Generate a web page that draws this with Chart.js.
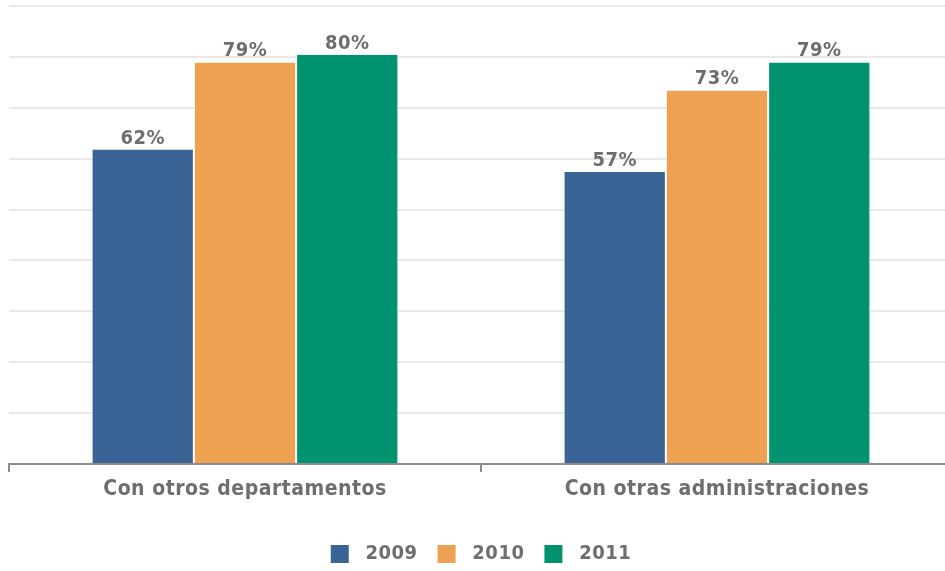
<!DOCTYPE html>
<html>
<head>
<meta charset="utf-8">
<script src="https://cdn.jsdelivr.net/npm/chart.js@4.4.1/dist/chart.umd.min.js"></script>
<style>
  html, body { margin: 0; padding: 0; background: #fff; overflow: hidden; }
  #wrap { position: relative; width: 953px; height: 574px; }
</style>
</head>
<body>
<div id="wrap"><canvas id="c"></canvas></div>
<script>
const categories = ['Con otros departamentos', 'Con otras administraciones'];
const seriesNames = ['2009', '2010', '2011'];
const values2009 = [61.8, 57.4];
const values2010 = [78.9, 73.4];
const values2011 = [80.4, 78.9];
const seriesColors = ['#3a6495', '#eea151', '#01926f'];
const yMax = 90;
const yStep = 10;

const textGray = '#6e6e6e';
const fontFamily = '"DejaVu Sans Condensed", "DejaVu Sans", sans-serif';

const spacing = {
  id: 'spacing',
  beforeLayout(chart) { chart.ctx.letterSpacing = '0.5px'; },
  beforeDraw(chart) { chart.ctx.letterSpacing = '0.5px'; }
};

const valueLabels = {
  id: 'valueLabels',
  afterDatasetsDraw(chart) {
    const ctx = chart.ctx;
    ctx.save();
    ctx.font = 'bold 20px ' + fontFamily;
    ctx.fillStyle = textGray;
    ctx.textAlign = 'center';
    ctx.textBaseline = 'alphabetic';
    chart.data.datasets.forEach((ds, i) => {
      const meta = chart.getDatasetMeta(i);
      meta.data.forEach((bar, j) => {
        ctx.fillText(Math.round(ds.data[j]) + '%', bar.x, bar.y - 6);
      });
    });
    ctx.restore();
  }
};

const allValues = [values2009, values2010, values2011];
const datasets = seriesNames.map((name, i) => ({
  label: name,
  data: allValues[i],
  backgroundColor: seriesColors[i],
  borderColor: '#ffffff',
  borderWidth: { left: 1, right: 1, top: 0, bottom: 0 },
  borderSkipped: false,
  categoryPercentage: 0.65,
  barPercentage: 1.0
}));

new Chart(document.getElementById('c'), {
  type: 'bar',
  data: { labels: categories, datasets },
  plugins: [spacing, valueLabels],
  options: {
    responsive: true,
    maintainAspectRatio: false,
    animation: false,
    layout: { padding: { left: 9, top: 6, right: 0, bottom: 0 } },
    plugins: {
      tooltip: { enabled: false },
      legend: {
        position: 'bottom',
        labels: {
          boxWidth: 18,
          boxHeight: 18,
          padding: 20,
          color: textGray,
          font: { family: fontFamily, size: 20, weight: 'bold' },
          generateLabels(chart) {
            return chart.data.datasets.map((ds, i) => ({
              text: ' ' + ds.label,
              fillStyle: ds.backgroundColor,
              strokeStyle: ds.backgroundColor,
              lineWidth: 0,
              hidden: false,
              datasetIndex: i,
              fontColor: textGray
            }));
          }
        }
      }
    },
    scales: {
      x: {
        grid: { display: true, drawOnChartArea: false, drawTicks: true, tickLength: 8, color: '#8c8c8c', lineWidth: 2, offset: true },
        border: { display: true, color: '#8c8c8c', width: 2 },
        ticks: { color: textGray, font: { family: fontFamily, size: 21, weight: 'bold' }, padding: 5, maxRotation: 0 },
        afterFit(scale) { scale.height = 60; }
      },
      y: {
        min: 0,
        max: yMax,
        ticks: { display: false, stepSize: yStep },
        grid: { color: '#e8e8e8', lineWidth: 2, drawTicks: false },
        border: { display: false },
        afterFit(scale) { scale.width = 0; }
      }
    }
  }
});
</script>
</body>
</html>
